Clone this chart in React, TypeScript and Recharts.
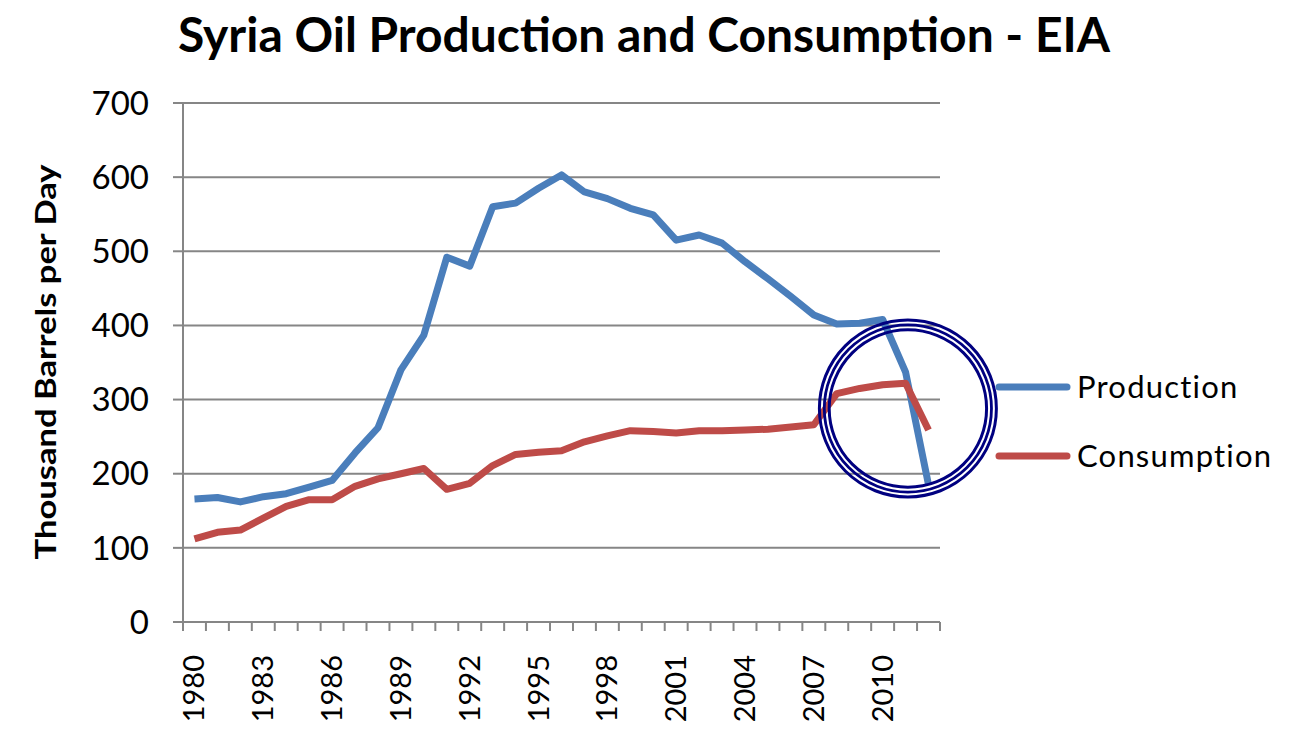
import React from "react";
import {
  LineChart,
  Line,
  XAxis,
  YAxis,
  CartesianGrid,
  Legend,
  ReferenceDot,
} from "recharts";

const years = [
  1980, 1981, 1982, 1983, 1984, 1985, 1986, 1987, 1988, 1989, 1990, 1991,
  1992, 1993, 1994, 1995, 1996, 1997, 1998, 1999, 2000, 2001, 2002, 2003,
  2004, 2005, 2006, 2007, 2008, 2009, 2010, 2011, 2012,
];

const production = [
  166, 168, 162, 169, 173, 182, 191, 228, 262, 340, 387, 492, 480, 560, 565,
  585, 603, 580, 571, 558, 549, 515, 522, 511, 486, 463, 439, 414, 402, 403,
  408, 337, 185,
];

const consumption = [
  112, 121, 124, 140, 156, 165, 165, 183, 193, 200, 207, 179, 187, 211, 226,
  229, 231, 243, 251, 258, 257, 255, 258, 258, 259, 260, 263, 266, 308, 315,
  320, 322, 259,
];

const yTicks = [0, 100, 200, 300, 400, 500, 600, 700];
const xLabelYears = [1980, 1983, 1986, 1989, 1992, 1995, 1998, 2001, 2004, 2007, 2010];
const xBoundaryTicks = [...years.map((y) => y - 0.5), years[years.length - 1] + 0.5];

const title = "Syria Oil Production and Consumption - EIA";
const yAxisTitle = "Thousand Barrels per Day";
const seriesOrder = ["Production", "Consumption"];
const colors = { production: "#4A7EBB", consumption: "#BE4B48" };

// annotation circle position (data units)
const circleAt = { year: 2011.1, value: 288 };

const data = years.map((year, i) => ({
  year,
  production: production[i],
  consumption: consumption[i],
}));

const FONT = "Lato, 'Open Sans', sans-serif";
const GRID = "#868686";

const EmptyTick = () => <g />;

const XLabelTick = (props: any) => {
  const { x, payload } = props;
  return (
    <text
      x={x + 10}
      y={655}
      transform={`rotate(-90, ${x + 10}, 655)`}
      textAnchor="end"
      fontFamily={FONT}
      fontSize={29}
      fill="#000"
    >
      {payload.value}
    </text>
  );
};

const LegendContent = (props: any) => {
  const payload = [...(props.payload || [])].sort(
    (a: any, b: any) => seriesOrder.indexOf(a.value) - seriesOrder.indexOf(b.value)
  );
  return (
    <div style={{ fontFamily: FONT }}>
      {payload.map((p: any, i: number) => (
        <div
          key={i}
          style={{ display: "flex", alignItems: "center", height: 69 }}
        >
          <svg width={76} height={10} style={{ display: "block" }}>
            <line
              x1={4}
              y1={5}
              x2={72}
              y2={5}
              stroke={p.color}
              strokeWidth={7}
              strokeLinecap="round"
            />
          </svg>
          <span
            style={{
              fontSize: 31,
              letterSpacing: 1.2,
              marginLeft: 6,
              color: "#000",
              lineHeight: "31px",
            }}
          >
            {p.value}
          </span>
        </div>
      ))}
    </div>
  );
};

const RingShape = (props: any) => {
  const { cx, cy } = props;
  return (
    <g>
      <circle cx={cx} cy={cy} r={88.5} fill="none" stroke="#000080" strokeWidth={3} />
      <circle cx={cx} cy={cy} r={83.6} fill="none" stroke="#000080" strokeWidth={2.8} />
      <circle cx={cx} cy={cy} r={78.7} fill="none" stroke="#000080" strokeWidth={3} />
    </g>
  );
};

export default function App() {
  return (
    <div style={{ position: "absolute", left: 0, top: 0, width: 1305, height: 734, background: "#fff" }}>
      <LineChart
        width={1305}
        height={734}
        data={data}
        margin={{ top: 103, right: 365, bottom: 12, left: 0 }}
      >
        <text
          x={178}
          y={52}
          fontFamily={FONT}
          fontWeight="bold"
          fontSize={48}
          textLength={932}
          lengthAdjust="spacingAndGlyphs"
          fill="#000"
        >
          {title}
        </text>
        <text
          x={56}
          y={362}
          transform="rotate(-90, 56, 362)"
          textAnchor="middle"
          fontFamily={FONT}
          fontWeight="bold"
          fontSize={29}
          textLength={395}
          lengthAdjust="spacingAndGlyphs"
          fill="#000"
        >
          {yAxisTitle}
        </text>
        <CartesianGrid horizontal vertical={false} stroke={GRID} strokeWidth={2} />
        <XAxis
          xAxisId="a"
          dataKey="year"
          type="number"
          domain={[years[0] - 0.5, years[years.length - 1] + 0.5]}
          ticks={xBoundaryTicks}
          interval={0}
          tick={<EmptyTick />}
          tickLine={{ stroke: GRID, strokeWidth: 2 }}
          tickSize={9}
          axisLine={{ stroke: GRID, strokeWidth: 2 }}
          height={10}
          allowDataOverflow
        />
        <XAxis
          xAxisId="b"
          dataKey="year"
          type="number"
          domain={[years[0] - 0.5, years[years.length - 1] + 0.5]}
          ticks={xLabelYears}
          interval={0}
          tick={<XLabelTick />}
          tickLine={false}
          axisLine={false}
          tickSize={0}
          height={90}
          allowDataOverflow
        />
        <YAxis
          domain={[0, 700]}
          ticks={yTicks}
          interval={0}
          width={183}
          tickSize={10}
          tickMargin={24}
          tickLine={{ stroke: GRID, strokeWidth: 2 }}
          axisLine={{ stroke: GRID, strokeWidth: 2 }}
          tick={{ fontFamily: FONT, fontSize: 33, fill: "#000" }}
        />
        <Line
          xAxisId="a"
          dataKey="production"
          name="Production"
          stroke={colors.production}
          strokeWidth={7}
          strokeLinejoin="round"
          dot={false}
          type="linear"
          isAnimationActive={false}
        />
        <Line
          xAxisId="a"
          dataKey="consumption"
          name="Consumption"
          stroke={colors.consumption}
          strokeWidth={7}
          strokeLinejoin="round"
          dot={false}
          type="linear"
          isAnimationActive={false}
        />
        <ReferenceDot
          xAxisId="a"
          x={circleAt.year}
          y={circleAt.value}
          ifOverflow="visible"
          shape={<RingShape />}
        />
        <Legend
          layout="horizontal"
          align="center"
          verticalAlign="middle"
          content={<LegendContent />}
          wrapperStyle={{ left: 995, top: 352, width: 310 }}
        />
      </LineChart>
    </div>
  );
}
